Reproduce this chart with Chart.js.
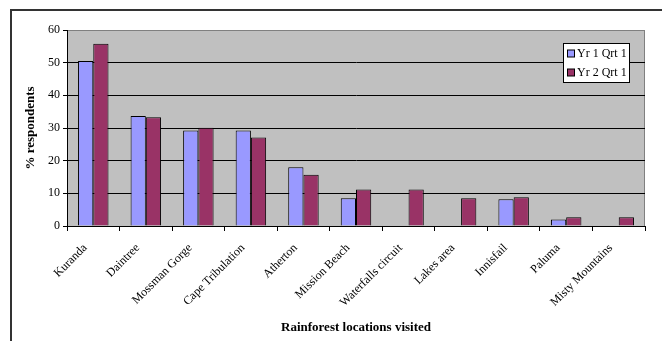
<!DOCTYPE html>
<html>
<head>
<meta charset="utf-8">
<script src="https://cdn.jsdelivr.net/npm/chart.js@4/dist/chart.umd.min.js"></script>
<style>
  html, body { margin: 0; padding: 0; background: #fff; }
  #wrap { position: relative; width: 662px; height: 341px; }
  #frame { position: absolute; left: 10px; top: 9px; width: 660px; height: 340px;
           border-left: 2px solid #333; border-top: 2px solid #333; pointer-events: none; }
  canvas { position: absolute; left: 0; top: 0; }
</style>
</head>
<body>
<div id="wrap">
  <canvas id="c" width="662" height="341"></canvas>
  <div id="frame"></div>
</div>
<script>
// Locations visited and the share of respondents for each survey quarter
const locations = ['Kuranda', 'Daintree', 'Mossman Gorge', 'Cape Tribulation', 'Atherton',
  'Mission Beach', 'Waterfalls circuit', 'Lakes area', 'Innisfail', 'Paluma', 'Misty Mountains'];
const yr1Qrt1 = [50.5, 33.7, 29.2, 29.2, 18.0, 8.5, 0, 0, 8.2, 2.0, 0];
const yr2Qrt1 = [55.8, 33.3, 30.1, 27.1, 15.7, 11.2, 11.2, 8.5, 8.8, 2.7, 2.7];
const seriesNames = ['Yr 1 Qrt 1', 'Yr 2 Qrt 1'];
const yTicks = [0, 10, 20, 30, 40, 50, 60];

const FONT = 'Liberation Serif, Times New Roman, serif';

// Grey plot background with a grey frame on the top and right
const plotBackground = {
  id: 'plotBackground',
  beforeDraw(chart) {
    const { ctx, chartArea: a } = chart;
    ctx.save();
    ctx.fillStyle = '#C0C0C0';
    ctx.fillRect(a.left, a.top, a.right - a.left, a.bottom - a.top);
    ctx.strokeStyle = '#808080';
    ctx.lineWidth = 1;
    ctx.beginPath();
    ctx.moveTo(a.left, a.top + 0.5);
    ctx.lineTo(a.right - 0.5, a.top + 0.5);
    ctx.lineTo(a.right - 0.5, a.bottom);
    ctx.stroke();
    ctx.restore();
  }
};

// Boxed legend drawn inside the top-right of the plot
const boxLegend = {
  id: 'boxLegend',
  afterDraw(chart) {
    const { ctx, chartArea: a } = chart;
    const w = 66, h = 39;
    const x = a.right - 82, y = a.top + 13;
    ctx.save();
    ctx.fillStyle = '#fff';
    ctx.fillRect(x, y, w, h);
    ctx.strokeStyle = '#000';
    ctx.lineWidth = 1;
    ctx.strokeRect(x + 0.5, y + 0.5, w, h);
    ctx.font = '12px ' + FONT;
    ctx.textBaseline = 'middle';
    chart.data.datasets.forEach((ds, i) => {
      const cy = y + 10.5 + i * 19;
      ctx.fillStyle = ds.backgroundColor;
      ctx.fillRect(x + 4.5, cy - 3.5, 7, 7);
      ctx.strokeStyle = '#000';
      ctx.strokeRect(x + 4.5, cy - 3.5, 7, 7);
      ctx.fillStyle = '#000';
      ctx.fillText(ds.label, x + 14, cy + 0.5);
    });
    ctx.restore();
  }
};

new Chart(document.getElementById('c'), {
  type: 'bar',
  data: {
    labels: locations,
    datasets: [
      { label: seriesNames[0], data: yr1Qrt1, backgroundColor: '#9999FF', borderColor: '#000', borderWidth: 1 },
      { label: seriesNames[1], data: yr2Qrt1, backgroundColor: '#993366', borderColor: '#000', borderWidth: 1 }
    ]
  },
  options: {
    responsive: false,
    animation: false,
    devicePixelRatio: 1,
    layout: { padding: { left: 23, top: 30, right: 17, bottom: 6 } },
    datasets: { bar: { categoryPercentage: 0.58, barPercentage: 1.0 } },
    plugins: {
      legend: { display: false },
      tooltip: { enabled: false }
    },
    scales: {
      x: {
        grid: { offset: true, drawOnChartArea: false, drawTicks: true, tickLength: 5, color: '#000' },
        border: { color: '#000', width: 1 },
        ticks: { color: '#000', font: { family: FONT, size: 12 }, minRotation: 45, maxRotation: 45,
                 padding: 10, labelOffset: -8, autoSkip: false },
        title: { display: true, text: 'Rainforest locations visited', color: '#000',
                 font: { family: FONT, size: 13, weight: 'bold' }, padding: { top: 0, bottom: 0 } },
        afterFit(scale) { scale.height = 109; }
      },
      y: {
        min: 0, max: 60,
        afterBuildTicks(scale) { scale.ticks = yTicks.map(v => ({ value: v })); },
        grid: {
          color: ctx => (ctx.tick && ctx.tick.value === 60 ? '#808080' : '#000'),
          tickColor: '#000', tickLength: 4, drawTicks: true
        },
        border: { color: '#000', width: 1 },
        ticks: { color: '#000', font: { family: FONT, size: 12 }, padding: 3 },
        title: { display: true, text: '% respondents', color: '#000',
                 font: { family: FONT, size: 13, weight: 'bold' }, padding: { top: 0, bottom: 4 } },
        afterFit(scale) { scale.width = 44; }
      }
    }
  },
  plugins: [plotBackground, boxLegend]
});
</script>
</body>
</html>
